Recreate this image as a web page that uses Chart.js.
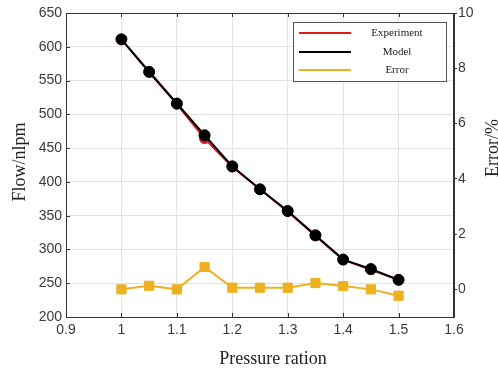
<!DOCTYPE html>
<html>
<head>
<meta charset="utf-8">
<script src="https://cdn.jsdelivr.net/npm/chart.js@4.4.0/dist/chart.umd.min.js"></script>
<style>
  html, body { margin: 0; padding: 0; background: #fff; }
  canvas { display: block; }
</style>
</head>
<body>
<canvas id="flowChart" width="498" height="373"></canvas>
<script>
// data
const pressure   = [1, 1.05, 1.1, 1.15, 1.2, 1.25, 1.3, 1.35, 1.4, 1.45, 1.5];
const experiment = [611, 562, 515, 464, 422, 389, 356, 320, 285, 270, 255];
const model      = [611, 563, 516, 469, 423, 389, 357, 321, 285, 271, 255];
const errorPct   = [0.0, 0.13, 0.0, 0.81, 0.06, 0.06, 0.06, 0.23, 0.12, 0.0, -0.23];

const seriesNames = ['Experiment', 'Model', 'Error'];
const xTitle = 'Pressure ration';
const yTitle = 'Flow/nlpm';
const y2Title = 'Error/%';

const RED = '#e31a1c';
const BLACK = '#000000';
const GOLD = '#edb120';
const AXIS = '#333333';

function pts(ys) {
  return pressure.map((p, i) => ({ x: p, y: ys[i] }));
}

// box, inner tick marks, axis titles and legend drawn MATLAB style
const matlabFrame = {
  id: 'matlabFrame',
  afterDraw(chart) {
    const ctx = chart.ctx;
    const a = chart.chartArea;
    const xs = chart.scales.x, ys = chart.scales.y;
    ctx.save();

    // frame
    ctx.strokeStyle = AXIS;
    ctx.lineWidth = 1;
    ctx.strokeRect(a.left + 0.5, a.top + 0.5, a.right - a.left - 1, a.bottom - a.top);

    // inward ticks
    ctx.beginPath();
    xs.ticks.forEach(t => {
      const px = Math.round(xs.getPixelForValue(t.value)) + 0.5;
      ctx.moveTo(px, a.bottom); ctx.lineTo(px, a.bottom - 4);
      ctx.moveTo(px, a.top); ctx.lineTo(px, a.top + 4);
    });
    ys.ticks.forEach(t => {
      const py = Math.round(ys.getPixelForValue(t.value)) + 0.5;
      ctx.moveTo(a.left, py); ctx.lineTo(a.left + 4, py);
    });
    ctx.stroke();

    // axis titles
    ctx.fillStyle = '#222';
    ctx.font = '18px "Liberation Serif"';
    ctx.textAlign = 'center';
    ctx.textBaseline = 'alphabetic';
    ctx.fillText(xTitle, 273, 364);

    ctx.save();
    ctx.translate(25, 162);
    ctx.rotate(-Math.PI / 2);
    ctx.fillText(yTitle, 0, 0);
    ctx.restore();

    ctx.save();
    ctx.translate(498, 148);
    ctx.rotate(-Math.PI / 2);
    ctx.fillText(y2Title, 0, 0);
    ctx.restore();

    // legend
    ctx.fillStyle = '#fff';
    ctx.fillRect(293.5, 22.5, 153, 59);
    ctx.strokeStyle = '#555';
    ctx.strokeRect(293.5, 22.5, 153, 59);
    const rows = [33, 52, 70];
    ctx.font = '11px "Liberation Serif"';
    ctx.textBaseline = 'middle';
    chart.data.datasets.forEach((ds, i) => {
      ctx.strokeStyle = ds.borderColor;
      ctx.lineWidth = 2;
      ctx.beginPath();
      ctx.moveTo(299, rows[i]); ctx.lineTo(351, rows[i]);
      ctx.stroke();
      ctx.fillStyle = '#222';
      ctx.fillText(ds.label, 397, rows[i]);
    });

    ctx.restore();
  }
};

Chart.defaults.font.family = '"Liberation Sans", Arial, sans-serif';
Chart.defaults.color = '#3a3a3a';

const flowChart = new Chart(document.getElementById('flowChart'), {
  type: 'line',
  data: {
    datasets: [
      {
        label: seriesNames[0],
        data: pts(experiment),
        yAxisID: 'y',
        borderColor: RED,
        backgroundColor: RED,
        borderWidth: 2,
        pointStyle: 'circle',
        pointRadius: 5,
        pointBorderWidth: 1,
        order: 2
      },
      {
        label: seriesNames[1],
        data: pts(model),
        yAxisID: 'y',
        borderColor: BLACK,
        backgroundColor: BLACK,
        borderWidth: 2,
        pointStyle: 'circle',
        pointRadius: 5.5,
        pointBorderWidth: 1,
        order: 1
      },
      {
        label: seriesNames[2],
        data: pts(errorPct),
        yAxisID: 'y2',
        borderColor: GOLD,
        backgroundColor: GOLD,
        borderWidth: 2,
        pointStyle: 'rect',
        pointRadius: 6.5,
        pointBorderWidth: 1,
        order: 3
      }
    ]
  },
  options: {
    responsive: false,
    animation: false,
    layout: { padding: { top: 13, left: 0, right: 0, bottom: 0 } },
    plugins: {
      legend: { display: false },
      tooltip: { enabled: false }
    },
    scales: {
      x: {
        type: 'linear',
        min: 0.9,
        max: 1.6,
        ticks: {
          stepSize: 0.1,
          padding: 5,
          autoSkip: false,
          maxRotation: 0,
          font: { size: 14 },
          callback: v => String(Math.round(v * 100) / 100)
        },
        grid: { color: '#e2e2e2', drawTicks: false },
        border: { color: AXIS },
        afterFit: s => { s.height = 56; }
      },
      y: {
        position: 'left',
        min: 200,
        max: 650,
        ticks: { stepSize: 50, padding: 4, font: { size: 14 } },
        grid: { color: '#e2e2e2', drawTicks: false },
        border: { color: AXIS },
        afterFit: s => { s.width = 66; }
      },
      y2: {
        position: 'right',
        min: -1,
        max: 10,
        ticks: { stepSize: 2, padding: 1, font: { size: 14 } },
        grid: { drawOnChartArea: false, drawTicks: true, tickLength: 3, color: AXIS },
        border: { color: AXIS },
        afterBuildTicks: s => { s.ticks = s.ticks.filter(t => t.value >= 0); },
        afterFit: s => { s.width = 44; }
      }
    }
  },
  plugins: [matlabFrame]
});
</script>
</body>
</html>
